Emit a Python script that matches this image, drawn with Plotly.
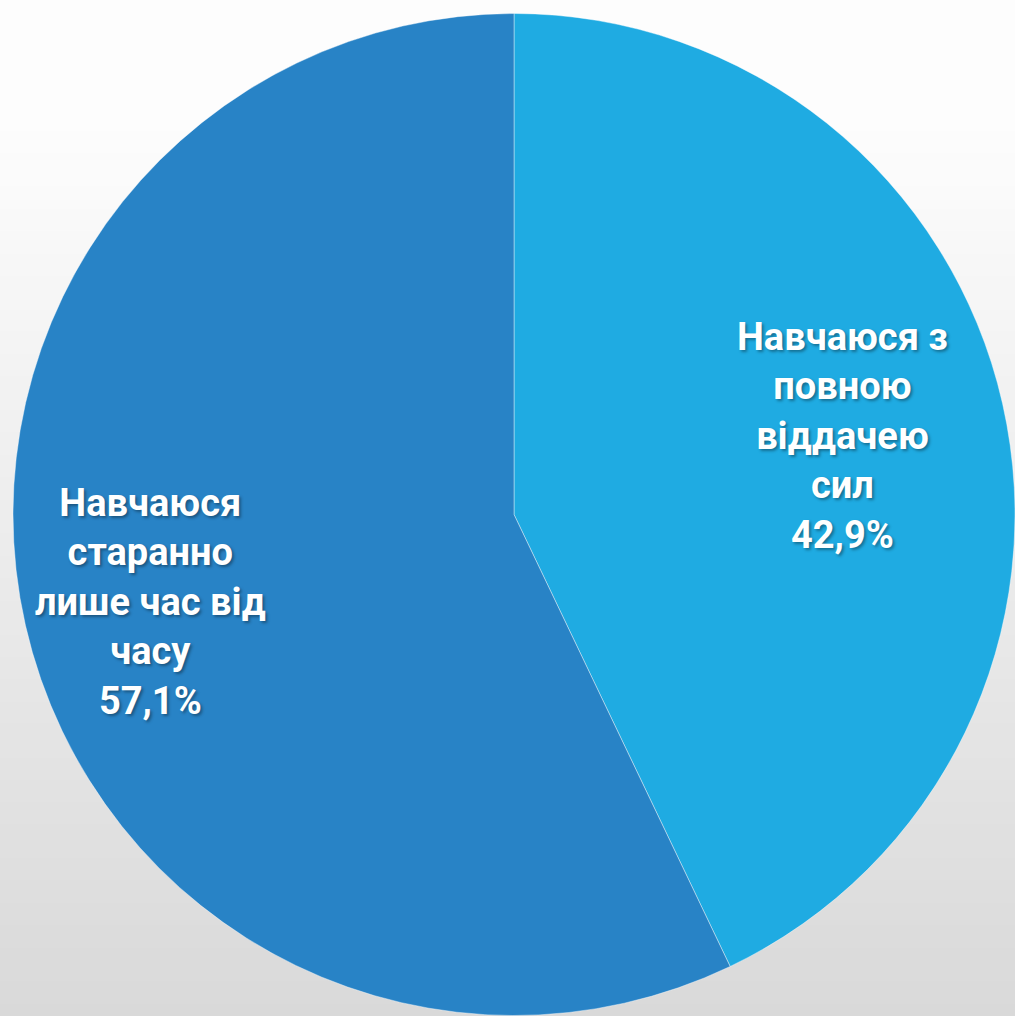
import plotly.graph_objects as go

labels = ["Навчаюся з повною віддачею сил", "Навчаюся старанно лише час від часу"]
label_lines = [["Навчаюся з", "повною", "віддачею", "сил"],
               ["Навчаюся", "старанно", "лише час від", "часу"]]
values = [42.9, 57.1]
value_text = ["42,9%", "57,1%"]
colors = ["#1FABE2", "#2883C6"]

W, H = 1015, 1016

fig = go.Figure()
fig.add_trace(go.Pie(
    labels=labels,
    values=values,
    sort=False,
    direction="clockwise",
    rotation=0,
    textinfo="none",
    hoverinfo="label+percent",
    marker=dict(colors=colors, line=dict(color="rgba(255,255,255,0.4)", width=1)),
    domain=dict(x=[13 / W, 1.0], y=[0.0, 1 - 13 / H]),
    showlegend=False,
))

# background vertical gradient (white at top -> light gray at bottom)
shapes = []
n = 80
y_start = 120.0
for i in range(n):
    y0 = y_start + (H - y_start) * i / n
    y1 = y_start + (H - y_start) * (i + 1) / n
    t = (i + 0.5) / n
    c = round(253 - (253 - 217) * t)
    shapes.append(dict(type="rect", xref="paper", yref="paper",
                       x0=0, x1=1, y0=1 - y1 / H, y1=1 - y0 / H + 0.001,
                       fillcolor=f"rgb({c},{c},{c})", line=dict(width=0),
                       layer="below"))

font = dict(family="Roboto", size=38, color="white", weight="bold",
            shadow="2px 2px 3px rgba(0,0,0,0.35)")
ann_pos = [(842, 436), (150, 602)]
annotations = []
for lines, vt, (ax, ay) in zip(label_lines, value_text, ann_pos):
    annotations.append(dict(
        text="<br>".join(lines + [vt]),
        x=ax / W, y=1 - ay / H, xref="paper", yref="paper",
        showarrow=False, align="center", font=font,
        xanchor="center", yanchor="middle",
    ))

fig.update_layout(
    width=W, height=H,
    margin=dict(l=0, r=0, t=0, b=0),
    paper_bgcolor="#FDFDFD",
    plot_bgcolor="rgba(0,0,0,0)",
    shapes=shapes,
    annotations=annotations,
)

post = (
    "document.documentElement.style.margin='0';"
    "document.documentElement.style.padding='0';"
    "document.documentElement.style.overflow='hidden';"
    "document.body.style.margin='0';"
    "document.body.style.padding='0';"
    "document.body.style.overflow='hidden';"
    "var gd=document.getElementById('{plot_id}');"
    "if(gd&&gd.parentNode){gd.parentNode.style.lineHeight='0';gd.style.display='block';}"
)

fig.write_html("out.html",
               config={"displayModeBar": False},
               post_script=post)
